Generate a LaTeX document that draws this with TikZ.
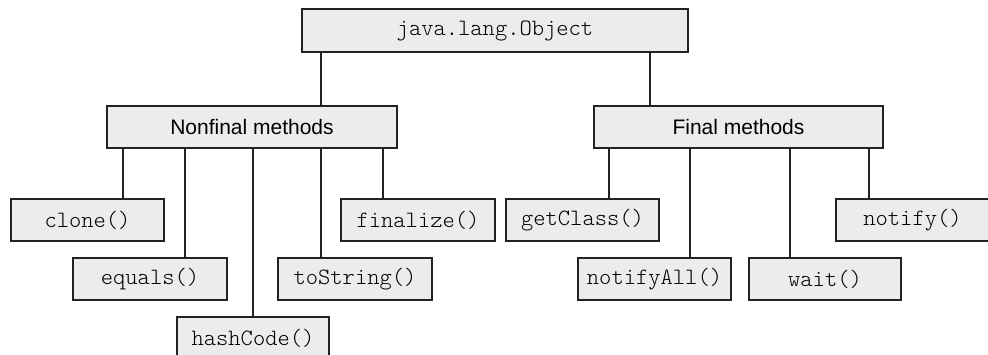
\documentclass[tikz,border=0pt]{standalone}
\usepackage{fontspec}
\newfontfamily\courfont{lmmonolt10-regular.otf}
\newfontfamily\arialfont{Liberation Sans}
\definecolor{boxfill}{HTML}{EBECEB}
\definecolor{boxline}{HTML}{222222}
\tikzset{
  cbox/.style={draw=boxline, fill=boxfill, line width=1.2pt, rectangle, anchor=north west,
    inner sep=0pt, outer sep=0pt, font=\courfont\fontsize{23.4}{26}\selectfont},
  gbox/.style={cbox, font=\arialfont\fontsize{21}{25}\selectfont},
  link/.style={draw=boxline, line width=1.2pt}
}
\newcommand{\mybox}[7]{%
  \node[#1, minimum width=#5-#3 pt, minimum height=#6-#4 pt] (#2) at (#3,#4) {#7};}
\begin{document}
\begin{tikzpicture}[x=1pt,y=-1pt]
\useasboundingbox (0,0) rectangle (988,355);
\mybox{cbox}{obj}{302}{9}{688}{52}{java.lang.Object}
\mybox{gbox}{nonfinal}{107}{106}{397}{148}{Nonfinal methods}
\mybox{gbox}{final}{594}{106}{883}{148}{Final methods}
\mybox{cbox}{clone}{11}{199}{164}{241}{clone()}
\mybox{cbox}{equals}{73}{258}{227}{300}{equals()}
\mybox{cbox}{hashcode}{177}{317}{329}{359}{hashCode()}
\mybox{cbox}{tostring}{278}{258}{432}{300}{toString()}
\mybox{cbox}{finalize}{341}{199}{495}{241}{finalize()}
\mybox{cbox}{getclass}{506}{199}{659}{241}{getClass()}
\mybox{cbox}{notifyall}{578}{258}{731}{300}{notifyAll()}
\mybox{cbox}{wait}{749}{258}{901}{300}{wait()}
\mybox{cbox}{notify}{836}{199}{989}{241}{notify()}
% connectors
\draw[link] ([xshift=214pt]nonfinal.north west) -- ([xshift=214pt]nonfinal.north west |- obj.south);
\draw[link] ([xshift=56pt]final.north west) -- ([xshift=56pt]final.north west |- obj.south);
\draw[link] ([xshift=112pt]clone.north west) -- ([xshift=112pt]clone.north west |- nonfinal.south);
\draw[link] ([xshift=112pt]equals.north west) -- ([xshift=112pt]equals.north west |- nonfinal.south);
\draw[link] (hashcode.north) -- (hashcode.north |- nonfinal.south);
\draw[link] ([xshift=43pt]tostring.north west) -- ([xshift=43pt]tostring.north west |- nonfinal.south);
\draw[link] ([xshift=42pt]finalize.north west) -- ([xshift=42pt]finalize.north west |- nonfinal.south);
\draw[link] ([xshift=103pt]getclass.north west) -- ([xshift=103pt]getclass.north west |- final.south);
\draw[link] ([xshift=112pt]notifyall.north west) -- ([xshift=112pt]notifyall.north west |- final.south);
\draw[link] ([xshift=41pt]wait.north west) -- ([xshift=41pt]wait.north west |- final.south);
\draw[link] ([xshift=33pt]notify.north west) -- ([xshift=33pt]notify.north west |- final.south);
\end{tikzpicture}
\end{document}
